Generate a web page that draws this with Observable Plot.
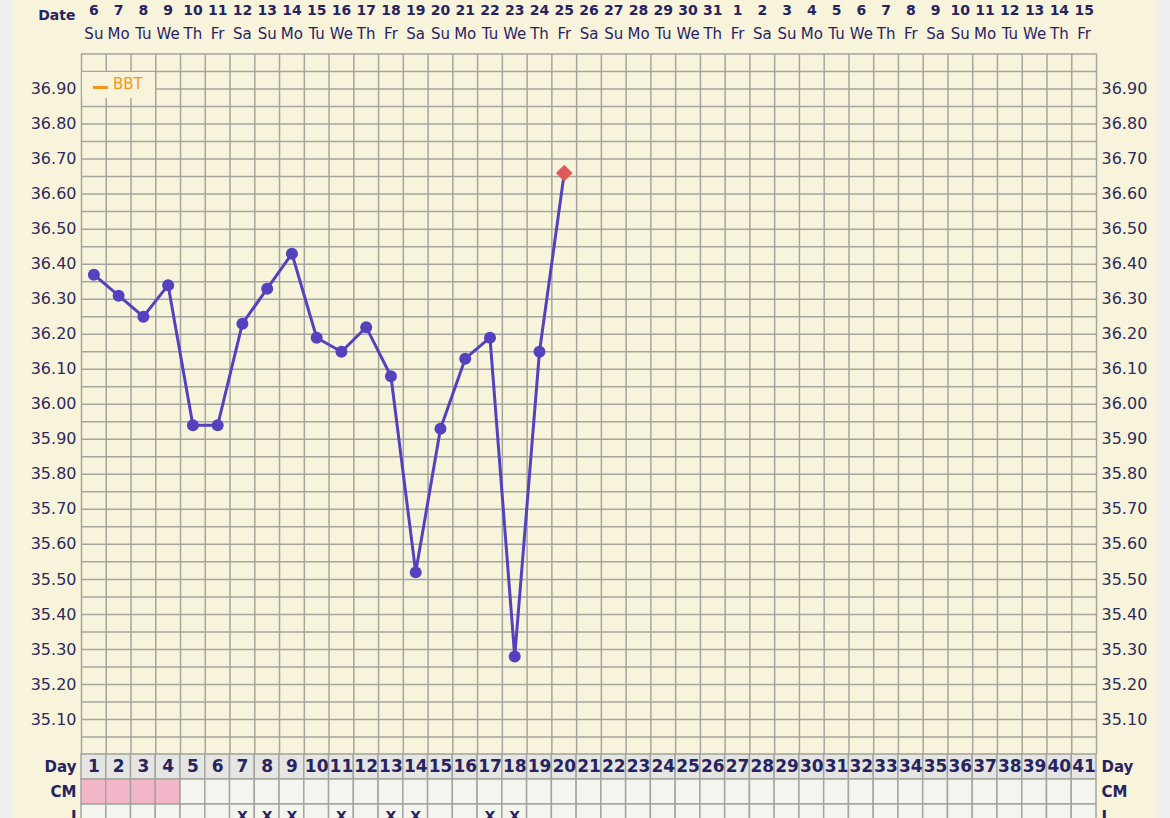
<!DOCTYPE html>
<html>
<head>
<meta charset="utf-8">
<script src="https://cdn.jsdelivr.net/npm/d3@7"></script>
<script src="https://cdn.jsdelivr.net/npm/@observablehq/plot@0.6"></script>
<style>
  html, body { margin: 0; padding: 0; background: #efefef; overflow: hidden; }
  #wrap { position: relative; width: 1170px; height: 818px; font-family: "DejaVu Sans", sans-serif; }
  #paper { position: absolute; left: 13px; top: 0; width: 1144px; height: 818px; background: #f8f4dc; }
  .layer { position: absolute; left: 0; }
  .layer svg { display: block; overflow: visible; }
  #legend { position: absolute; left: 82px; top: 72px; width: 73px; height: 26px; background: #f8f4dc; }
  #legend .dash { position: absolute; left: 11px; top: 14px; width: 15px; height: 3px; background: #f7941d; }
  #legend .lbl { position: absolute; left: 31px; top: 3px; font-size: 15px; color: #f7941d; font-family: "DejaVu Sans", sans-serif; }
</style>
</head>
<body>
<div id="wrap">
  <div id="paper"></div>
  <div class="layer" id="header" style="top:0"></div>
  <div class="layer" id="main" style="top:0"></div>
  <div class="layer" id="table" style="top:754px"></div>
  <div id="legend"><div class="dash"></div><div class="lbl">BBT</div></div>
</div>
<script>
// ---- data ----
const cycleDays = d3.range(1, 42);
const dateLabels = [6,7,8,9,10,11,12,13,14,15,16,17,18,19,20,21,22,23,24,25,26,27,28,29,30,31,
                    1,2,3,4,5,6,7,8,9,10,11,12,13,14,15];
const weekdayLabels = ["Su","Mo","Tu","We","Th","Fr","Sa","Su","Mo","Tu","We","Th","Fr","Sa",
                       "Su","Mo","Tu","We","Th","Fr","Sa","Su","Mo","Tu","We","Th","Fr","Sa",
                       "Su","Mo","Tu","We","Th","Fr","Sa","Su","Mo","Tu","We","Th","Fr"];
const bbtDays = [1,2,3,4,5,6,7,8,9,10,11,12,13,14,15,16,17,18,19,20];
const bbtTemps = [36.37,36.31,36.25,36.34,35.94,35.94,36.23,36.33,36.43,36.19,36.15,36.22,36.08,
                  35.52,35.93,36.13,36.19,35.28,36.15,36.66];
const yTickLabels = [35.1,35.2,35.3,35.4,35.5,35.6,35.7,35.8,35.9,36.0,36.1,36.2,36.3,36.4,36.5,36.6,36.7,36.8,36.9];
const cmDays = [1,2,3,4];
const intercourseDays = [7,8,9,11,13,14,17,18];
const tableRows = ["Day","CM","I"];

// ---- style ----
const navy = "#27235f";
const tickColor = "#2e2b5a";
const gridColor = "#a5a5a0";
const lineColor = "#5441bd";
const diamondColor = "#e05a5a";
const W = 1170, ML = 81, MR = 74;

const bbt = bbtDays.map((d, i) => ({day: d, temp: bbtTemps[i]}));
const yGrid = d3.range(0, 41).map(i => +(35 + i * 0.05).toFixed(2));
const xGrid = d3.range(0, 42).map(i => i + 0.5);

// ---- header (dates / weekdays) ----
const header = Plot.plot({
  width: W, height: 50,
  marginLeft: ML, marginRight: MR, marginTop: 0, marginBottom: 0,
  x: {domain: [0.5, 41.5], axis: null},
  y: {type: "point", domain: ["date", "wd"], range: [10, 34], padding: 0},
  style: {background: "transparent", fontFamily: "DejaVu Sans", overflow: "visible"},
  marks: [
    Plot.text(cycleDays, {x: d => d, y: () => "date", text: (d, i) => String(dateLabels[i]),
      fontWeight: "bold", fontSize: 14, fill: navy}),
    Plot.text(cycleDays, {x: d => d, y: () => "wd", text: (d, i) => weekdayLabels[i],
      fontSize: 15, fill: navy}),
    Plot.axisY(["date"], {anchor: "left", tickSize: 0, tickPadding: 6, tickFormat: () => "Date",
      label: null, fontWeight: "bold", fontSize: 14, color: navy, dy: 5})
  ]
});
document.getElementById("header").append(header);

// ---- main temperature chart ----
const main = Plot.plot({
  width: W, height: 760,
  marginLeft: ML, marginRight: MR, marginTop: 53.5, marginBottom: 6,
  x: {domain: [0.5, 41.5], axis: null},
  y: {domain: [35, 37]},
  style: {background: "transparent", fontFamily: "DejaVu Sans", fontSize: "16px", overflow: "visible"},
  marks: [
    Plot.ruleY(yGrid, {stroke: gridColor, strokeWidth: 1.5}),
    Plot.ruleX(xGrid, {stroke: gridColor, strokeWidth: 1.5}),
    Plot.axisY(yTickLabels, {anchor: "left", tickSize: 0, tickPadding: 5, tickFormat: d => d.toFixed(2),
      label: null, fontSize: 16, color: tickColor}),
    Plot.axisY(yTickLabels, {anchor: "right", tickSize: 0, tickPadding: 5, tickFormat: d => d.toFixed(2),
      label: null, fontSize: 16, color: tickColor}),
    Plot.line(bbt, {x: "day", y: "temp", stroke: lineColor, strokeWidth: 3}),
    Plot.dot(bbt.slice(0, -1), {x: "day", y: "temp", r: 6, fill: lineColor}),
    Plot.dot(bbt.slice(-1), {x: "day", y: "temp", r: 7.5, symbol: "diamond2", fill: diamondColor})
  ]
});
document.getElementById("main").append(main);

// ---- bottom table (Day / CM / I) ----
const cells = [];
for (const row of tableRows) {
  for (const d of cycleDays) {
    let fill = "#f5f5ef";
    if (row === "Day") fill = "#e5e5e3";
    if (row === "CM" && cmDays.includes(d)) fill = "#f4b6c9";
    cells.push({day: d, row, fill});
  }
}
const table = Plot.plot({
  width: W, height: 76,
  marginLeft: ML, marginRight: MR, marginTop: 0, marginBottom: 1,
  x: {type: "band", domain: cycleDays, padding: 0, round: false, axis: null},
  y: {type: "band", domain: tableRows, range: [0, 75], padding: 0, round: false},
  color: {type: "identity"},
  style: {background: "transparent", fontFamily: "DejaVu Sans", overflow: "visible"},
  marks: [
    Plot.cell(cells, {x: "day", y: "row", fill: "fill", stroke: gridColor, strokeWidth: 1.5, inset: 0}),
    Plot.text(cycleDays, {x: d => d, y: () => "Day", text: d => String(d), fontWeight: "bold", fontSize: 17, fill: navy}),
    Plot.text(intercourseDays, {x: d => d, y: () => "I", text: () => "X", fontWeight: "bold", fontSize: 14, fill: navy}),
    Plot.axisY({anchor: "left", tickSize: 0, tickPadding: 5, label: null, fontWeight: "bold", fontSize: 15, color: navy}),
    Plot.axisY({anchor: "right", tickSize: 0, tickPadding: 5, label: null, fontWeight: "bold", fontSize: 15, color: navy})
  ]
});
document.getElementById("table").append(table);
</script>
</body>
</html>
